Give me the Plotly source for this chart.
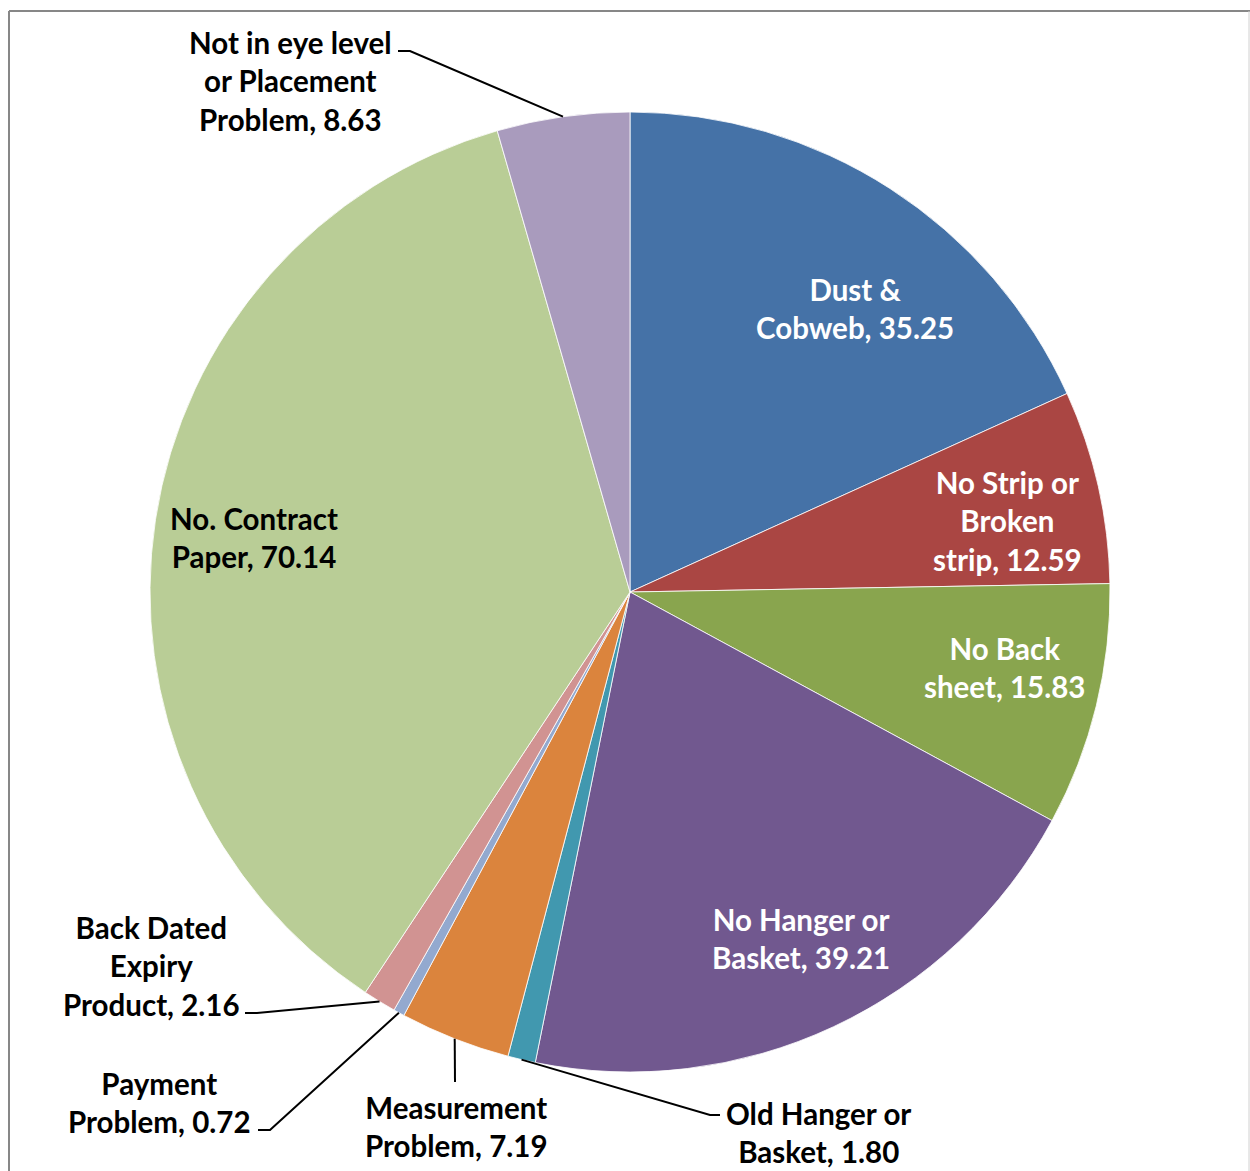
import math
import plotly.graph_objects as go

# Defect categories and counts, in clockwise order from 12 o'clock
categories = [
    "Dust &<br>Cobweb",
    "No Strip or<br>Broken<br>strip",
    "No Back<br>sheet",
    "No Hanger or<br>Basket",
    "Old Hanger or<br>Basket",
    "Measurement<br>Problem",
    "Payment<br>Problem",
    "Back Dated<br>Expiry<br>Product",
    "No. Contract<br>Paper",
    "Not in eye level<br>or Placement<br>Problem",
]
values = [35.25, 12.59, 15.83, 39.21, 1.80, 7.19, 0.72, 2.16, 70.14, 8.63]
colors = ["#4572A7", "#AA4643", "#89A54E", "#71588F", "#4198AF",
          "#DB843D", "#93A9CF", "#D19392", "#B9CD96", "#A99BBD"]

W, H = 1250, 1171
CX, CY, R = 630, 592, 480  # pie centre and radius in pixels

FONT = "Lato"
FS = 29.5


def px(x):
    return x / W


def py(y):
    return 1 - y / H


def label_text(i):
    name = categories[i]
    # last line carries the value
    return f"<b>{name}, {values[i]:.2f}</b>"


# label placement: (centre x, centre y, colour)
inside_pos = {
    0: (855, 308, "white"),
    1: (1007, 521, "white"),
    2: (1004, 667, "white"),
    3: (801, 938, "white"),
    8: (254, 537, "black"),
}
outside_pos = {
    9: (290, 81),
    7: (151, 966),
    6: (159, 1102),
    5: (456, 1126),
    4: (818, 1132),
}
# leader elbows: list of pixel points from label side toward the slice
leader_elbows = {
    9: [(398, 51), (410, 51)],
    4: [(720, 1115), (710, 1115)],
    5: [(455, 1082)],
    6: [(258, 1130), (270, 1130)],
    7: [(245, 1013), (257, 1013)],
}

total = sum(values)
mid_angle = {}
acc = 0.0
for i, v in enumerate(values):
    mid_angle[i] = (acc + v / 2) / total * 2 * math.pi
    acc += v

fig = go.Figure(
    go.Pie(
        labels=[c.replace("<br>", " ") for c in categories],
        values=values,
        sort=False,
        direction="clockwise",
        rotation=0,
        marker=dict(colors=colors, line=dict(color="white", width=0.8)),
        textinfo="none",
        hoverinfo="label+value",
        domain=dict(x=[px(CX - R), px(CX + R)], y=[py(CY + R), py(CY - R)]),
        showlegend=False,
    )
)

annotations = []
for i, (x, y, col) in inside_pos.items():
    annotations.append(dict(
        x=px(x), y=py(y), xref="paper", yref="paper", text=label_text(i),
        showarrow=False, align="center", xanchor="center", yanchor="middle",
        font=dict(family=FONT, size=FS, color=col),
    ))
for i, (x, y) in outside_pos.items():
    annotations.append(dict(
        x=px(x), y=py(y), xref="paper", yref="paper", text=label_text(i),
        showarrow=False, align="center", xanchor="center", yanchor="middle",
        font=dict(family=FONT, size=FS, color="black"),
    ))

shapes = []
for i, pts in leader_elbows.items():
    a = mid_angle[i]
    ex, ey = CX + R * math.sin(a), CY - R * math.cos(a)
    path_pts = pts + [(ex, ey)]
    d = "M " + " L ".join(f"{px(x):.5f},{py(y):.5f}" for x, y in path_pts)
    shapes.append(dict(type="path", path=d, xref="paper", yref="paper",
                       line=dict(color="black", width=2)))

# chart frame
shapes.append(dict(type="line", xref="paper", yref="paper",
                   x0=px(9), x1=px(9), y0=py(11), y1=py(H + 5),
                   line=dict(color="#878787", width=2)))
shapes.append(dict(type="line", xref="paper", yref="paper",
                   x0=px(9), x1=px(1250), y0=py(11), y1=py(11),
                   line=dict(color="#878787", width=2)))
shapes.append(dict(type="line", xref="paper", yref="paper",
                   x0=px(1249), x1=px(1249), y0=py(11), y1=py(H + 5),
                   line=dict(color="#D0D0D0", width=1)))

fig.update_layout(
    width=W, height=H,
    margin=dict(l=0, r=0, t=0, b=0),
    paper_bgcolor="white",
    plot_bgcolor="white",
    annotations=annotations,
    shapes=shapes,
)

fig.write_html("out.html")
